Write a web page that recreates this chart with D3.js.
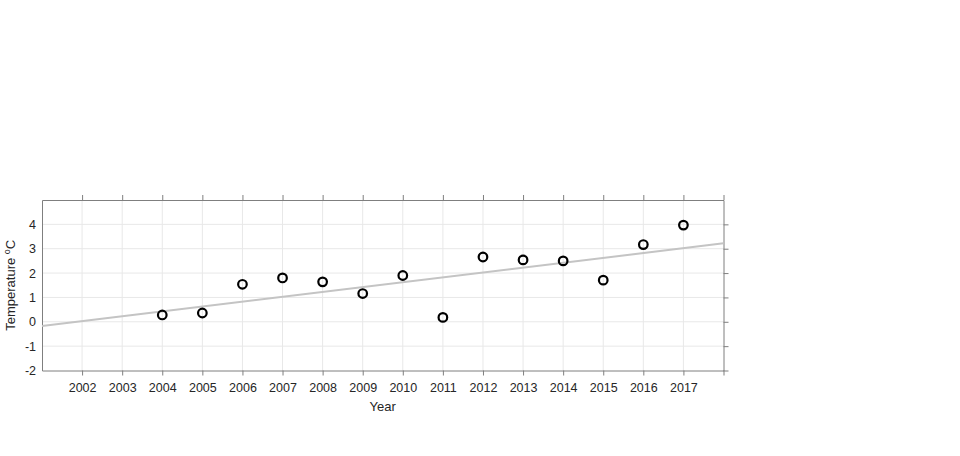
<!DOCTYPE html>
<html>
<head>
<meta charset="utf-8">
<script src="https://cdn.jsdelivr.net/npm/d3@7"></script>
<style>
  body { margin: 0; background: #fff; }
  svg { display: block; font-family: "Liberation Sans", Arial, sans-serif; }
</style>
</head>
<body>
<svg id="chart" width="960" height="456"></svg>
<script>
// observed yearly values
var years = [2004, 2005, 2006, 2007, 2008, 2009, 2010, 2011, 2012, 2013, 2014, 2015, 2016, 2017];
var temps = [0.28, 0.36, 1.54, 1.80, 1.64, 1.16, 1.90, 0.18, 2.66, 2.54, 2.50, 1.71, 3.17, 3.97];

// fitted trend, end points at the axis limits
var trendYears = [2001, 2018];
var trendTemps = [-0.17, 3.22];

var xTicks = [2002, 2003, 2004, 2005, 2006, 2007, 2008, 2009, 2010, 2011, 2012, 2013, 2014, 2015, 2016, 2017, 2018];
var xLabels = ["2002", "2003", "2004", "2005", "2006", "2007", "2008", "2009", "2010", "2011", "2012", "2013", "2014", "2015", "2016", "2017", ""];
var yTicks = [-2, -1, 0, 1, 2, 3, 4];

var svg = d3.select("#chart");
var pLeft = 42, pRight = 723.5, pTop = 200, pBottom = 370.5;

var x = d3.scaleLinear().domain([2001, 2018]).range([pLeft, pRight]);
var y = d3.scaleLinear().domain([-2, 5]).range([pBottom, pTop]);

var axisColor = "#7f7f7f";
var textColor = "#262626";

// grid
var grid = svg.append("g");
grid.selectAll("line.vx")
  .data(xTicks.slice(0, -1))
  .join("line")
  .attr("x1", d => x(d)).attr("x2", d => x(d))
  .attr("y1", pTop).attr("y2", pBottom)
  .attr("stroke", "#e8e8e8").attr("stroke-width", 1);
grid.selectAll("line.hy")
  .data(yTicks.slice(1))
  .join("line")
  .attr("x1", pLeft).attr("x2", pRight)
  .attr("y1", d => y(d)).attr("y2", d => y(d))
  .attr("stroke", "#e8e8e8").attr("stroke-width", 1);

// axes
function styleAxis(g) {
  g.select(".domain").attr("stroke", axisColor);
  g.selectAll(".tick line").attr("stroke", axisColor);
  g.selectAll(".tick text").attr("fill", textColor).attr("font-size", 12.5);
}

svg.append("g")
  .attr("transform", "translate(0," + pBottom + ")")
  .call(d3.axisBottom(x).tickValues(xTicks).tickFormat((d, i) => xLabels[i]).tickSize(5).tickSizeOuter(0).tickPadding(8))
  .call(styleAxis);

svg.append("g")
  .attr("transform", "translate(0," + pTop + ")")
  .call(d3.axisTop(x).tickValues(xTicks).tickFormat("").tickSize(5).tickSizeOuter(0))
  .call(styleAxis);

// plain hyphen for negatives, as in the original
svg.append("g")
  .attr("transform", "translate(" + pLeft + ",0)")
  .call(d3.axisLeft(y).tickValues(yTicks).tickFormat(d => String(d)).tickSize(0).tickSizeOuter(0).tickPadding(6))
  .call(styleAxis);

svg.append("g")
  .attr("transform", "translate(" + pRight + ",0)")
  .call(d3.axisRight(y).tickValues(yTicks).tickFormat("").tickSize(5).tickSizeOuter(0))
  .call(styleAxis);

// trend line
var line = d3.line().x(d => x(d[0])).y(d => y(d[1]));
svg.append("path")
  .datum(d3.zip(trendYears, trendTemps))
  .attr("d", line)
  .attr("fill", "none")
  .attr("stroke", "#c4c4c4")
  .attr("stroke-width", 2);

// points
svg.append("g").selectAll("circle")
  .data(d3.zip(years, temps))
  .join("circle")
  .attr("cx", d => x(d[0]))
  .attr("cy", d => y(d[1]))
  .attr("r", 4.3)
  .attr("fill", "none")
  .attr("stroke", "#000")
  .attr("stroke-width", 2.2);

// labels
svg.append("text")
  .attr("x", (pLeft + pRight) / 2)
  .attr("y", 411)
  .attr("text-anchor", "middle")
  .attr("font-size", 13)
  .attr("fill", textColor)
  .text("Year");

var yl = svg.append("text")
  .attr("transform", "translate(15," + ((pTop + pBottom) / 2) + ") rotate(-90)")
  .attr("text-anchor", "middle")
  .attr("font-size", 13)
  .attr("fill", textColor);
yl.append("tspan").text("Temperature ");
yl.append("tspan").attr("font-size", 9).attr("dy", -5).text("o");
yl.append("tspan").attr("dy", 5).text("C");
</script>
</body>
</html>
